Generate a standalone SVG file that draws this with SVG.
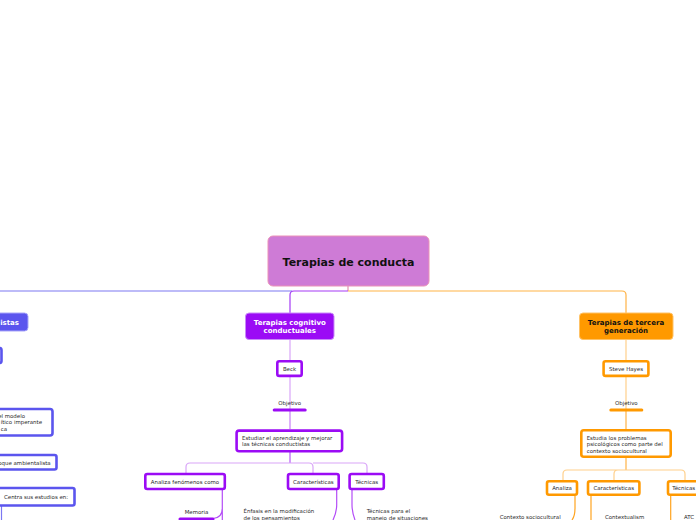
<svg xmlns="http://www.w3.org/2000/svg" width="696" height="520" viewBox="0 0 696 520">
<style>
text{font-family:"DejaVu Sans",Verdana,sans-serif;}
.s{font-size:5.45px;fill:#2a2a2a;}
.m{font-size:7px;font-weight:bold;}
.box{fill:#fff;stroke-width:2.6;}
.bl{stroke:#5B55EE;}
.pu{stroke:#9B0BF5;}
.or{stroke:#FF9900;}
.c{fill:none;stroke-width:1.2;}
</style>
<rect width="696" height="520" fill="#fff"/>
<g id="connectors">
  <path class="c" d="M0 291 H292" stroke="#7C78F2" stroke-width="1.5"/>
  <path class="c" d="M348 286 V291" stroke="#E58FB0" stroke-width="1.5"/>
  <path class="c" d="M348 291 H294 Q290 291 290 295 V313" stroke="#A53BF5" stroke-width="1.5"/>
  <path class="c" d="M348 291 H622 Q626 291 626 295 V313" stroke="#FFB347" stroke-width="1.5"/>
  <path class="c" d="M1.5 506 V520" stroke="#7C78F2" stroke-width="1.5"/>
  <path class="c" d="M290 339 V360 M290 377 V410" stroke="#D9A6F8"/>
  <path class="c" d="M290 410 V429" stroke="#C77DF7"/>
  <path class="c" d="M290 452 V463" stroke="#B65AF7"/>
  <path class="c" d="M290 463 H190 Q186 463 186 467 V473 M290 463 H309 Q313 463 313 467 V473 M313 463 H363 Q367 463 367 467 V473" stroke="#D9A6F8"/>
  <path class="c" d="M222.3 490 V520 M222.3 508 Q222.3 518 213 518.5" stroke="#B44DF7"/>
  <path class="c" d="M336.7 490 V505 Q336.7 512 333 520" stroke="#B44DF7"/>
  <path class="c" d="M352 490 V505 Q352 512 355 520" stroke="#B44DF7"/>
  <path class="c" d="M626 339 V360 M626 377 V410" stroke="#FFD08C"/>
  <path class="c" d="M626 410 V429 M626 458 V470" stroke="#FFB347"/>
  <path class="c" d="M626 470 H567 Q563 470 563 474 V480 M626 470 H618 Q614 470 614 474 V480 M626 470 H681 Q685 470 685 474 V480" stroke="#FFD08C"/>
  <path class="c" d="M575 496 V508 Q575 516 572 520" stroke="#FFA420" stroke-width="1.4"/>
  <path class="c" d="M591 496 V520" stroke="#FFA420" stroke-width="1.4"/>
  <path class="c" d="M670.7 496 V520" stroke="#FFA420" stroke-width="1.4"/>
</g>
<g id="root">
  <rect x="268" y="236" width="161" height="50" rx="5" fill="#CE7BD6" stroke="#EA92B8" stroke-width="1"/>
  <text x="348.5" y="265.8" text-anchor="middle" font-size="11" font-weight="bold" fill="#111">Terapias de conducta</text>
</g>
<g id="blue-main">
  <rect x="-20" y="313" width="48" height="18" rx="3.5" fill="#5B55EE" stroke="#A9A6FA" stroke-width="1"/>
  <text x="19" y="324.6" text-anchor="end" class="m" fill="#fff">istas</text>
</g>
<g id="blue-2"><rect x="-20" y="348" width="21.5" height="15" rx="2" class="box bl"/></g>
<g id="blue-modelo">
  <rect x="-20" y="409" width="72.5" height="26.5" rx="2.5" class="box bl"/>
  <text x="25" y="417.5" text-anchor="end" class="s">el modelo</text>
  <text x="42" y="424" text-anchor="end" class="s">ítico imperante</text>
  <text x="7" y="430.5" text-anchor="end" class="s">ca</text>
</g>
<g id="blue-ambiental">
  <rect x="-20" y="455" width="76.5" height="14.5" rx="2" class="box bl"/>
  <text x="50.7" y="464.6" text-anchor="end" class="s">oque ambientalista</text>
</g>
<g id="blue-centra">
  <rect x="-20" y="488" width="94.5" height="17.5" rx="2" class="box bl"/>
  <text x="4" y="498.6" class="s">Centra sus estudios en:</text>
</g>
<g id="purple-main">
  <rect x="245.5" y="313" width="88.5" height="26.5" rx="3.5" fill="#9B0BF5" stroke="#C98AF9" stroke-width="1"/>
  <text x="289.8" y="324.9" text-anchor="middle" class="m" fill="#fff">Terapias cognitivo</text>
  <text x="289.8" y="332.9" text-anchor="middle" class="m" fill="#fff">conductuales</text>
</g>
<g id="beck">
  <rect x="277.3" y="361.3" width="24.4" height="14.6" rx="2" class="box pu"/>
  <text x="289.5" y="370.6" text-anchor="middle" class="s">Beck</text>
</g>
<g id="objetivo-p">
  <text x="289.7" y="404.9" text-anchor="middle" class="s">Objetivo</text>
  <line x1="274.2" y1="410" x2="305.2" y2="410" stroke="#9B0BF5" stroke-width="3" stroke-linecap="round"/>
</g>
<g id="estudiar">
  <rect x="236.6" y="430.6" width="105.5" height="20.6" rx="2.5" class="box pu"/>
  <text x="242" y="439.6" class="s">Estudiar el aprendizaje y mejorar</text>
  <text x="242" y="446.1" class="s">las técnicas conductistas</text>
</g>
<g id="analiza-p">
  <rect x="145.3" y="474" width="79.5" height="15" rx="2" class="box pu"/>
  <text x="185" y="483.9" text-anchor="middle" class="s">Analiza fenómenos como</text>
</g>
<g id="caract-p">
  <rect x="288" y="474" width="50.7" height="15" rx="2" class="box pu"/>
  <text x="313.3" y="483.9" text-anchor="middle" class="s">Características</text>
</g>
<g id="tecnicas-p">
  <rect x="349.6" y="474" width="34.2" height="15" rx="2" class="box pu"/>
  <text x="366.7" y="483.9" text-anchor="middle" class="s">Técnicas</text>
</g>
<g id="memoria">
  <text x="196.5" y="513.6" text-anchor="middle" class="s">Memoria</text>
  <line x1="180" y1="519" x2="213" y2="519" stroke="#9B0BF5" stroke-width="3" stroke-linecap="round"/>
</g>
<g id="enfasis">
  <text x="243.5" y="513.4" class="s">Énfasis en la modificación</text>
  <text x="243.5" y="519.7" class="s">de los pensamientos</text>
</g>
<g id="tecnicas-para">
  <text x="366.7" y="513.4" class="s">Técnicas para el</text>
  <text x="366.7" y="519.7" class="s">manejo de situaciones</text>
</g>
<g id="orange-main">
  <rect x="579.5" y="313" width="93.5" height="26.5" rx="3.5" fill="#FF9900" stroke="#FFC266" stroke-width="1"/>
  <text x="626" y="324.9" text-anchor="middle" class="m" fill="#111">Terapias de tercera</text>
  <text x="626" y="332.9" text-anchor="middle" class="m" fill="#111">generación</text>
</g>
<g id="steve">
  <rect x="603.6" y="361.3" width="44.8" height="14.6" rx="2" class="box or"/>
  <text x="626" y="370.6" text-anchor="middle" class="s">Steve Hayes</text>
</g>
<g id="objetivo-o">
  <text x="626.3" y="404.9" text-anchor="middle" class="s">Objetivo</text>
  <line x1="610.8" y1="410" x2="641.8" y2="410" stroke="#FF9900" stroke-width="3" stroke-linecap="round"/>
</g>
<g id="estudia">
  <rect x="581.3" y="430.3" width="89.4" height="26.4" rx="2.5" class="box or"/>
  <text x="586.7" y="439.6" class="s">Estudia los problemas</text>
  <text x="586.7" y="446.1" class="s">psicológicos como parte del</text>
  <text x="586.7" y="452.7" class="s">contexto sociocultural</text>
</g>
<g id="analiza-o">
  <rect x="547" y="481.3" width="30" height="13.4" rx="2" class="box or"/>
  <text x="562" y="490.4" text-anchor="middle" class="s">Analiza</text>
</g>
<g id="caract-o">
  <rect x="588" y="481.3" width="51.4" height="13.4" rx="2" class="box or"/>
  <text x="613.7" y="490.4" text-anchor="middle" class="s">Características</text>
</g>
<g id="tecnicas-o">
  <rect x="668" y="481.3" width="40" height="13.4" rx="2" class="box or"/>
  <text x="672.3" y="490.4" class="s">Técnicas</text>
</g>
<g id="contexto">
  <text x="560.7" y="519.4" text-anchor="end" class="s">Contexto sociocultural</text>
</g>
<g id="contextualism">
  <text x="605" y="519.4" class="s">Contextualism</text>
</g>
<g id="atc">
  <text x="684" y="519.4" class="s">ATC</text>
</g>
</svg>
